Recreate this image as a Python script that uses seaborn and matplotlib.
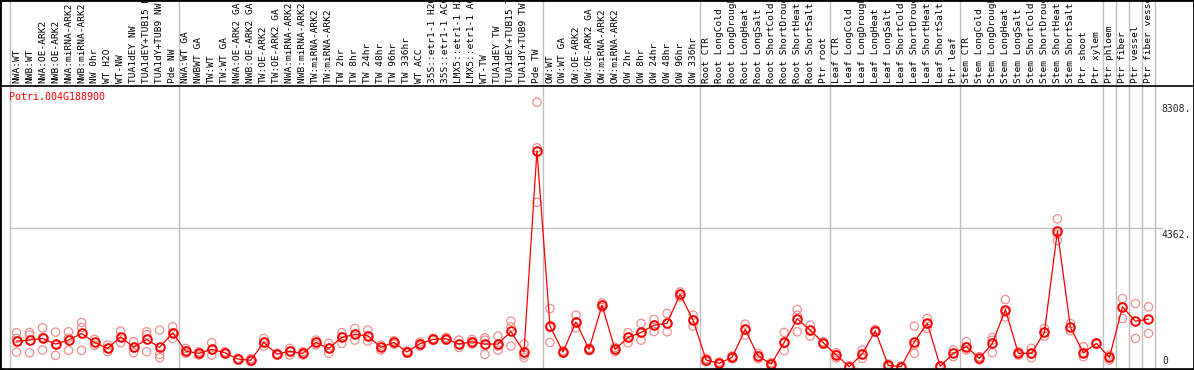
import numpy as np
import pandas as pd
import matplotlib
matplotlib.use("Agg")
import matplotlib.pyplot as plt
from matplotlib.lines import Line2D
from matplotlib.patches import Rectangle
import seaborn as sns

# expression values
gene = "Potri.004G188900"

samples = [
    "NWA:WT", "NWB:WT", "NWA:OE-ARK2", "NWB:OE-ARK2", "NWA:miRNA-ARK2", "NWB:miRNA-ARK2",
    "NW 0hr", "WT H2O", "WT-NW", "TUA1dEY NW", "TUA1dEY+TUB15 NW", "TUA1dY+TUB9 NW", "Pde NW",
    "NWA:WT GA", "NWBWT GA", "TW:WT", "TW:WT GA", "NWA:OE-ARK2 GA", "NWB:OE-ARK2 GA",
    "TW:OE-ARK2", "TW:OE-ARK2 GA", "NWA:miRNA-ARK2 GA", "NWB:miRNA-ARK2 GA", "TW:miRNA-ARK2",
    "TW:miRNA-ARK2", "TW 2hr", "TW 8hr", "TW 24hr", "TW 48hr", "TW 96hr", "TW 336hr", "WT ACC",
    "35S::etr1-1 H2O", "35S::etr1-1 ACC", "LMX5::etr1-1 H2O", "LMX5::etr1-1 ACC", "WT-TW",
    "TUA1dEY TW", "TUA1dEY+TUB15 TW", "TUA1dY+TUB9 TW", "Pde TW",
    "OW:WT", "OW:WT GA", "OW:OE-ARK2", "OW:OE-ARK2 GA", "OW:miRNA-ARK2", "OW:miRNA-ARK2",
    "OW 2hr", "OW 8hr", "OW 24hr", "OW 48hr", "OW 96hr", "OW 336hr",
    "Root CTR", "Root LongCold", "Root LongDrought", "Root LongHeat", "Root LongSalt",
    "Root ShortCold", "Root ShortDrought", "Root ShortHeat", "Root ShortSalt", "Ptr root",
    "Leaf CTR", "Leaf LongCold", "Leaf LongDrought", "Leaf LongHeat", "Leaf LongSalt",
    "Leaf ShortCold", "Leaf ShortDrought", "Leaf ShortHeat", "Leaf ShortSalt", "Ptr leaf",
    "Stem CTR", "Stem LongCold", "Stem LongDrought", "Stem LongHeat", "Stem LongSalt",
    "Stem ShortCold", "Stem ShortDrought", "Stem ShortHeat", "Stem ShortSalt", "Ptr shoot",
    "Ptr xylem", "Ptr phloem", "Ptr fiber", "Ptr vessel", "Ptr fiber vessel",
]

mean_vals = [
    813, 844, 896, 719, 844, 1053, 771, 584, 948, 615, 865, 615, 1074,
    500, 428, 553, 449, 250, 209, 771, 407, 490, 428, 771, 584, 928, 1022, 980, 615,
    771, 470, 730, 865, 886, 719, 792, 719, 719, 1115, 470, 6786,
    1282, 470, 1418, 553, 1939, 553, 928, 1084, 1313, 1365, 2283, 1470,
    219, 115, 302, 1178, 344, 94, 771, 1511, 1157, 761,
    375, 10, 407, 1136, 52, 10, 792, 1365, 21, 428,
    636, 271, 740, 1803, 428, 428, 1084, 4263, 1240, 449, 740,
    302, 1887, 1438, 1501,
]

rep1 = [
    1074, 1084, 1230, 1094, 1105, 1397, 865, 688, 1126, 792, 1105, 1157, 1261,
    584, 480, 761, 480, 271, 261, 896, 428, 584, 480, 844, 740, 1074, 1209, 1157, 688,
    824, 500, 782, 896, 928, 844, 865, 917, 969, 1438, 719, 8308,
    1834, 511, 1626, 594, 2012, 615, 1074, 1365, 1491, 1678, 2356, 1626,
    271, 157, 344, 1345, 428, 136, 1084, 1803, 1313, 792,
    450, 42, 532, 1178, 94, 30, 1282, 1522, 40, 532,
    792, 323, 928, 2116, 480, 584, 1209, 4649, 1365, 636, 761,
    375, 2147, 1991, 1887,
]

rep2 = [
    897, 1001, 928, 698, 907, 1240, 771, 584, 948, 605, 1011, 396, 1074,
    500, 428, 532, 449, 250, 209, 771, 407, 490, 428, 771, 584, 948, 1022, 980, 615,
    771, 470, 730, 865, 886, 719, 792, 844, 657, 1261, 375, 6881,
    1240, 470, 1418, 553, 1939, 553, 928, 1053, 1313, 1365, 2283, 1470,
    219, 115, 302, 1178, 344, 94, 740, 1626, 1157, 761,
    396, 10, 407, 1136, 52, 10, 688, 1344, 21, 428,
    636, 271, 844, 1720, 428, 407, 1084, 4170, 1240, 449, 740,
    302, 1887, 896, 1053,
]

rep3 = [
    469, 449, 532, 365, 521, 521, 678, 480, 761, 449, 480, 292, 896,
    428, 375, 375, 417, 230, 167, 657, 386, 375, 375, 698, 428, 740, 844, 813, 532,
    719, 438, 657, 834, 844, 615, 719, 396, 532, 657, 292, 5169,
    771, 428, 1230, 511, 1866, 480, 761, 844, 1115, 1105, 2200, 1282,
    167, 73, 261, 1001, 261, 10, 511, 1105, 969, 719,
    282, 0, 271, 1094, 10, 0, 428, 1209, 5, 323,
    532, 219, 449, 1574, 375, 292, 969, 3971, 1136, 323, 719,
    219, 1522, None, None,
]

# last sample index of each tissue block (vertical separators)
group_ends = [12, 40, 52, 62, 72, 83, 84, 85, 86, 87]

ytick_vals = [8308, 4362, 0]
ytick_labels = ["8308.", "4362.", "0"]

red = "#FF0000"
pink = "#F09090"
grid = "#C0C0C0"

pos = np.arange(len(samples))
mean_df = pd.DataFrame({"pos": pos, "value": mean_vals})
rep_df = pd.DataFrame({"pos": pos, "r1": rep1, "r2": rep2, "r3": rep3})
rep_df = rep_df.melt(id_vars="pos", value_name="value").dropna()

sns.set_theme(style="white")
plt.rcParams['font.family'] = ['DejaVu Sans Mono', 'DejaVu Sans']

W, H = 1194, 370
fig = plt.figure(figsize=(W / 100, H / 100), dpi=100)
ax = fig.add_axes([10 / W, 1 / H, 1145 / W, 283 / H])

ax.set_xlim(-0.5, len(samples) - 0.5)
ax.set_ylim(-63, 8818)

# separators and grid
ax.axvline(-0.5, ymin=0, ymax=369 / 283, color=grid, lw=1, clip_on=False, zorder=0)
for g in group_ends:
    ax.axvline(g + 0.5, ymin=0, ymax=369 / 283, color=grid, lw=1, clip_on=False, zorder=0)
ax.axhline(4362, xmin=0, xmax=1152 / 1145, color=grid, lw=1, clip_on=False, zorder=0)

# replicates, then the mean line
sns.scatterplot(data=rep_df, x="pos", y="value", marker="o", s=36,
                facecolor="none", edgecolor=pink, linewidth=0.9, ax=ax, zorder=2)
sns.lineplot(data=mean_df, x="pos", y="value", color=red, lw=0.9, marker="o",
             markersize=6.2, markerfacecolor="none", markeredgecolor=red,
             markeredgewidth=1.4, ax=ax, zorder=3)

ax.set_xlabel("")
ax.set_ylabel("")
ax.set_yticks([])
ax.set_xticks(pos)
ax.set_xticklabels(samples, rotation=90, fontsize=6.8, color="black")
ax.tick_params(axis="x", top=True, bottom=False, labeltop=True, labelbottom=False,
               length=0, pad=2)
for s in ax.spines.values():
    s.set_visible(False)

ax.annotate(gene, xy=(0, 1), xycoords="axes fraction", xytext=(-1, -11),
            textcoords="offset pixels", color=red, fontsize=7.2, ha="left", va="center")

for v, t in zip(ytick_vals, ytick_labels):
    if v == 0:
        ax.annotate(t, xy=(1, v), xycoords=("axes fraction", "data"), xytext=(7, 1),
                    textcoords="offset pixels", fontsize=7, ha="left", va="bottom")
    else:
        ax.annotate(t, xy=(1, v), xycoords=("axes fraction", "data"), xytext=(6, -2),
                    textcoords="offset pixels", fontsize=7, ha="left", va="top")

# header rule, bottom rule and outer frame
fig.add_artist(Line2D([0, 1], [284 / H, 284 / H], transform=fig.transFigure, color="black", lw=1.2))
fig.add_artist(Line2D([0, 1], [1 / H, 1 / H], transform=fig.transFigure, color="black", lw=1.2))
fig.add_artist(Rectangle((0, 0), 1, 1, transform=fig.transFigure, fill=False,
                         edgecolor="black", lw=2))

fig.savefig("out.png", dpi=100)
